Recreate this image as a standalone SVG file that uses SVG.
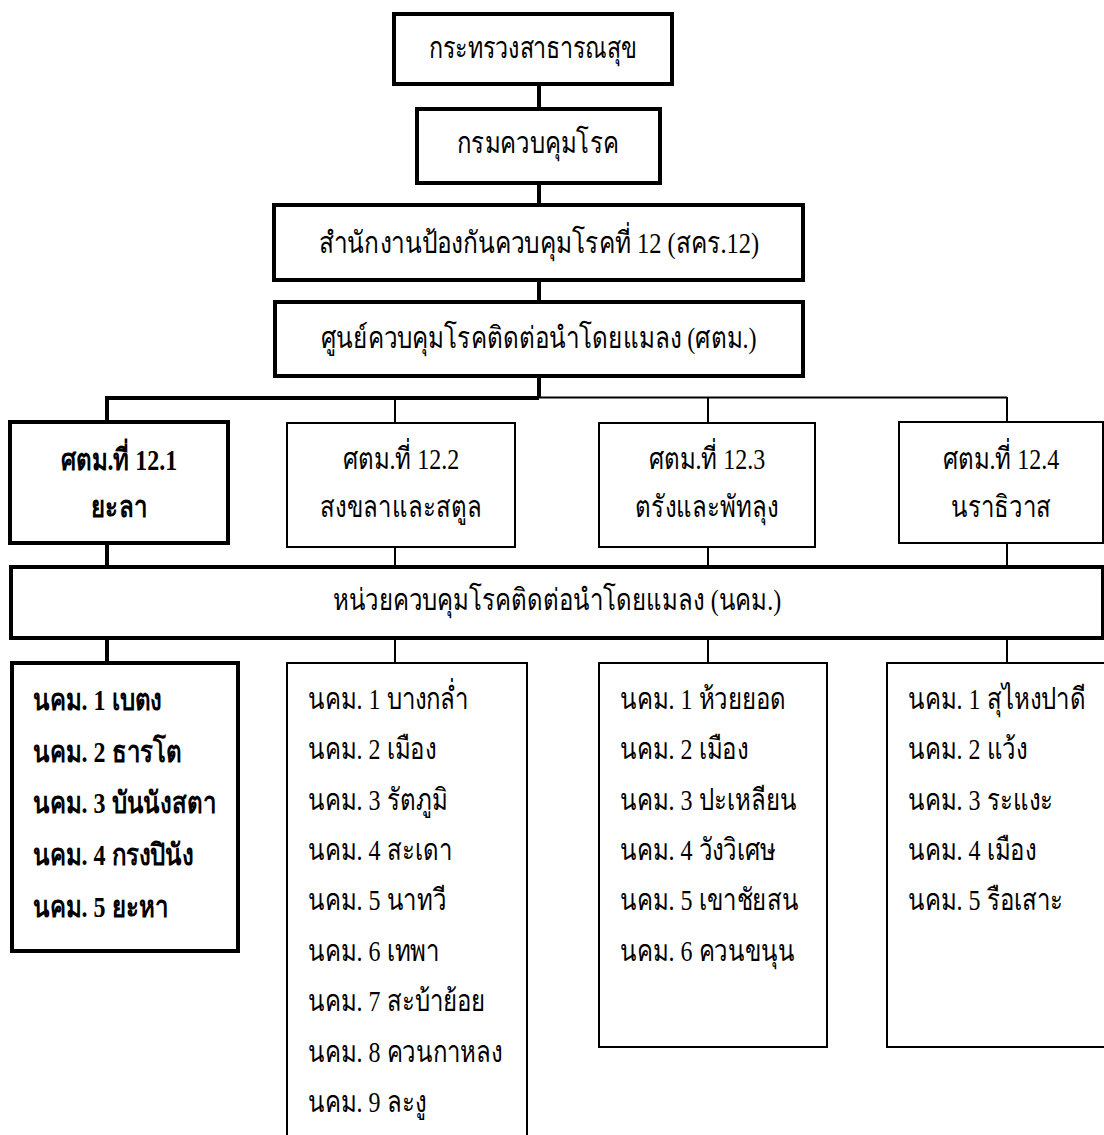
<svg xmlns="http://www.w3.org/2000/svg" width="1104" height="1135" viewBox="0 0 1104 1135">
<style>
.bg{fill:#fff}
.thick{fill:#fff;stroke:#000;stroke-width:4}
.thin{fill:#fff;stroke:#000;stroke-width:2}
.cth{stroke:#000;stroke-width:4;fill:none}
.ctn{stroke:#000;stroke-width:2;fill:none}
text{font-family:"Liberation Serif","DejaVu Serif",serif;font-size:24px;fill:#000}
.c{text-anchor:middle}
.b{font-weight:bold}
</style>
<rect class="bg" x="0" y="0" width="1104" height="1135"/>
<g id="connectors">
<path class="cth" d="M539 84V109M539 183V205M539 280V302M539 376V398M107 398H539M107 396V422M107 543V571M107 638V667"/>
<path class="ctn" d="M539 397.5H1007M395 397V423M708 397V423M1007 397V422M395 540V567M708 540V567M1007 543V567M395 638V663M708 638V663M1007 638V663"/>
</g>
<g id="n1"><rect class="thick" x="394" y="14" width="278" height="70"/><text class="c" transform="translate(533 58) scale(0.97 1.25)">กระทรวงสาธารณสุข</text></g>
<g id="n2"><rect class="thick" x="417" y="109" width="243" height="74"/><text class="c" transform="translate(538 153) scale(1 1.25)">กรมควบคุมโรค</text></g>
<g id="n3"><rect class="thick" x="274" y="205" width="529" height="75"/><text class="c" transform="translate(539 253) scale(1.02 1.25)">สำนักงานป้องกันควบคุมโรคที่ 12 (สคร.12)</text></g>
<g id="n4"><rect class="thick" x="275" y="302" width="528" height="74"/><text class="c" transform="translate(539 348) scale(1.01 1.25)">ศูนย์ควบคุมโรคติดต่อนำโดยแมลง (ศตม.)</text></g>
<g id="s1"><rect class="thick" x="10" y="422" width="218" height="121"/><text class="c b" transform="translate(119 470) scale(1 1.25)">ศตม.ที่ 12.1</text><text class="c b" transform="translate(119 517) scale(1 1.25)">ยะลา</text></g>
<g id="s2"><rect class="thin" x="287" y="423" width="228" height="124"/><text class="c" transform="translate(401 469) scale(1 1.25)">ศตม.ที่ 12.2</text><text class="c" transform="translate(401 517) scale(1 1.25)">สงขลาและสตูล</text></g>
<g id="s3"><rect class="thin" x="599" y="423" width="216" height="124"/><text class="c" transform="translate(707 469) scale(1 1.25)">ศตม.ที่ 12.3</text><text class="c" transform="translate(707 517) scale(1 1.25)">ตรังและพัทลุง</text></g>
<g id="s4"><rect class="thin" x="899" y="422" width="204" height="121"/><text class="c" transform="translate(1001 469) scale(1 1.25)">ศตม.ที่ 12.4</text><text class="c" transform="translate(1001 517) scale(1 1.25)">นราธิวาส</text></g>
<g id="nkm"><rect class="thick" x="11" y="567" width="1092" height="71"/><text class="c" transform="translate(557 610) scale(1 1.25)">หน่วยควบคุมโรคติดต่อนำโดยแมลง (นคม.)</text></g>
<g id="listA"><rect class="thick" x="12" y="663" width="226" height="288"/>
<text class="b" transform="translate(33 710) scale(1 1.25)">นคม. 1 เบตง</text>
<text class="b" transform="translate(33 762) scale(1 1.25)">นคม. 2 ธารโต</text>
<text class="b" transform="translate(33 813) scale(1 1.25)">นคม. 3 บันนังสตา</text>
<text class="b" transform="translate(33 865) scale(1 1.25)">นคม. 4 กรงปินัง</text>
<text class="b" transform="translate(33 917) scale(1 1.25)">นคม. 5 ยะหา</text>
</g>
<g id="listB"><rect class="thin" x="287" y="663" width="240" height="480"/>
<text transform="translate(308 709) scale(1 1.25)">นคม. 1 บางกล่ำ</text>
<text transform="translate(308 759) scale(1 1.25)">นคม. 2 เมือง</text>
<text transform="translate(308 810) scale(1 1.25)">นคม. 3 รัตภูมิ</text>
<text transform="translate(308 860) scale(1 1.25)">นคม. 4 สะเดา</text>
<text transform="translate(308 910) scale(1 1.25)">นคม. 5 นาทวี</text>
<text transform="translate(308 961) scale(1 1.25)">นคม. 6 เทพา</text>
<text transform="translate(308 1011) scale(1 1.25)">นคม. 7 สะบ้าย้อย</text>
<text transform="translate(308 1062) scale(1 1.25)">นคม. 8 ควนกาหลง</text>
<text transform="translate(308 1112) scale(1 1.25)">นคม. 9 ละงู</text>
</g>
<g id="listC"><rect class="thin" x="599" y="663" width="228" height="384"/>
<text transform="translate(620 709) scale(1 1.25)">นคม. 1 ห้วยยอด</text>
<text transform="translate(620 759) scale(1 1.25)">นคม. 2 เมือง</text>
<text transform="translate(620 810) scale(1 1.25)">นคม. 3 ปะเหลียน</text>
<text transform="translate(620 860) scale(1 1.25)">นคม. 4 วังวิเศษ</text>
<text transform="translate(620 910) scale(1 1.25)">นคม. 5 เขาชัยสน</text>
<text transform="translate(620 961) scale(1 1.25)">นคม. 6 ควนขนุน</text>
</g>
<g id="listD"><rect class="thin" x="887" y="663" width="240" height="384"/>
<text transform="translate(908 709) scale(1 1.25)">นคม. 1 สุไหงปาดี</text>
<text transform="translate(908 759) scale(1 1.25)">นคม. 2 แว้ง</text>
<text transform="translate(908 810) scale(1 1.25)">นคม. 3 ระแงะ</text>
<text transform="translate(908 860) scale(1 1.25)">นคม. 4 เมือง</text>
<text transform="translate(908 910) scale(1 1.25)">นคม. 5 รือเสาะ</text>
</g>
</svg>
